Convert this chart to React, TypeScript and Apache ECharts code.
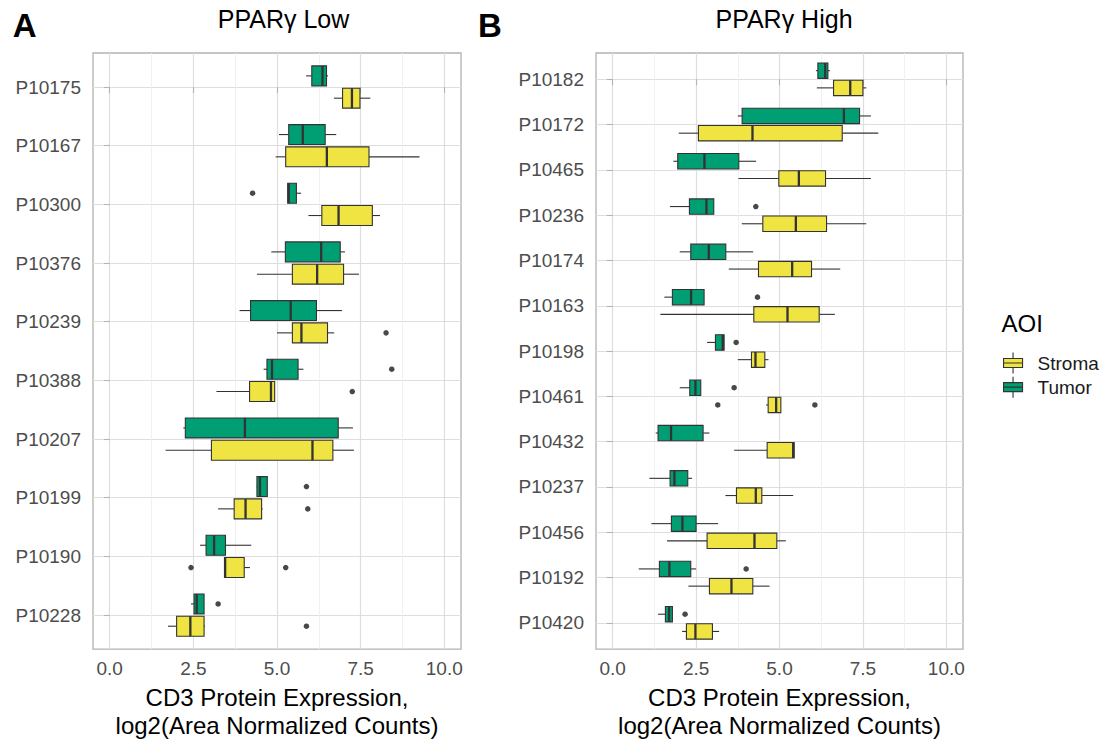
import React, { useEffect, useRef } from "react";
import * as echarts from "echarts";

// ---------- data ----------
const lowCats = ["P10175", "P10167", "P10300", "P10376", "P10239", "P10388", "P10207", "P10199", "P10190", "P10228"];
// [min, q1, median, q3, max]
const lowStroma = [
  [6.70, 6.96, 7.24, 7.48, 7.79],
  [4.96, 5.26, 6.49, 7.75, 9.26],
  [5.94, 6.34, 6.84, 7.85, 8.08],
  [4.40, 5.46, 6.20, 6.99, 7.45],
  [5.00, 5.46, 5.73, 6.51, 6.71],
  [3.19, 4.18, 4.82, 4.93, 4.93],
  [1.67, 3.04, 6.06, 6.67, 7.30],
  [3.24, 3.72, 4.06, 4.54, 4.57],
  [3.43, 3.43, 3.45, 4.02, 4.19],
  [1.74, 2.00, 2.41, 2.82, 2.85],
];
const lowTumor = [
  [5.87, 6.04, 6.36, 6.48, 6.52],
  [5.06, 5.35, 5.77, 6.44, 6.77],
  [5.32, 5.32, 5.35, 5.58, 5.72],
  [4.83, 5.25, 6.32, 6.89, 7.03],
  [3.88, 4.21, 5.41, 6.18, 6.94],
  [4.60, 4.70, 4.85, 5.63, 5.79],
  [2.20, 2.26, 4.04, 6.83, 7.27],
  [4.39, 4.40, 4.49, 4.71, 4.71],
  [2.70, 2.88, 3.12, 3.46, 4.23],
  [2.43, 2.52, 2.60, 2.82, 2.82],
];
const lowStromaOut: [string, number][] = [
  ["P10239", 8.26], ["P10388", 7.25], ["P10199", 5.92], ["P10190", 2.43], ["P10190", 5.26], ["P10228", 5.88],
];
const lowTumorOut: [string, number][] = [
  ["P10300", 4.27], ["P10388", 8.43], ["P10199", 5.88], ["P10228", 3.24],
];

const highCats = ["P10182", "P10172", "P10465", "P10236", "P10174", "P10163", "P10198", "P10461", "P10432", "P10237", "P10456", "P10192", "P10420"];
const highStroma = [
  [6.12, 6.62, 7.12, 7.50, 7.60],
  [1.98, 2.57, 4.19, 6.88, 7.96],
  [3.77, 4.98, 5.58, 6.38, 7.74],
  [3.87, 4.50, 5.49, 6.41, 7.60],
  [3.48, 4.37, 5.38, 5.96, 6.82],
  [1.43, 4.23, 5.24, 6.19, 6.66],
  [3.75, 4.16, 4.28, 4.56, 4.67],
  [4.60, 4.66, 4.90, 5.04, 5.04],
  [3.64, 4.63, 5.41, 5.44, 5.44],
  [3.38, 3.71, 4.29, 4.47, 5.41],
  [1.63, 2.83, 4.25, 4.92, 5.19],
  [2.27, 2.90, 3.56, 4.20, 4.70],
  [2.08, 2.21, 2.48, 2.99, 3.19],
];
const highTumor = [
  [6.09, 6.15, 6.37, 6.45, 6.51],
  [3.75, 3.88, 6.93, 7.40, 7.74],
  [1.82, 1.95, 2.75, 3.78, 4.30],
  [1.72, 2.30, 2.81, 3.03, 3.03],
  [2.01, 2.34, 2.88, 3.39, 4.21],
  [1.55, 1.79, 2.35, 2.74, 2.74],
  [2.83, 3.08, 3.30, 3.34, 3.34],
  [2.01, 2.31, 2.48, 2.64, 2.64],
  [1.29, 1.36, 1.75, 2.71, 2.90],
  [1.10, 1.72, 1.85, 2.25, 2.38],
  [1.16, 1.76, 2.09, 2.50, 3.16],
  [0.78, 1.40, 1.70, 2.34, 2.50],
  [1.36, 1.58, 1.69, 1.79, 1.79],
];
const highStromaOut: [string, number][] = [
  ["P10461", 3.15], ["P10461", 6.06],
];
const highTumorOut: [string, number][] = [
  ["P10236", 4.29], ["P10163", 4.34], ["P10198", 3.70], ["P10461", 3.64], ["P10192", 4.00], ["P10420", 2.17],
];

const xTicks = [0, 2.5, 5, 7.5, 10];
const xMinorTicks = [1.25, 3.75, 6.25, 8.75];
const xTitle = "CD3 Protein Expression,\nlog2(Area Normalized Counts)";
const panelTitles = ["PPARγ Low", "PPARγ High"];
const groups = ["Stroma", "Tumor"];
const colors: Record<string, string> = { Stroma: "#F0E442", Tumor: "#009E73" };

// ---------- style constants ----------
const FONT = "'Liberation Sans', Arial, sans-serif";
const OFFSET: Record<string, number> = { Tumor: -0.19, Stroma: 0.19 };
const HALF = 0.17;
const EXPAND = 0.58;
const LINE = "#333333";

function makeRender(offset: number, fill: string) {
  return (params: any, api: any) => {
    const idx = api.value(0);
    const yc = idx + offset;
    const xMin = api.coord([api.value(1), yc])[0];
    const xQ1 = api.coord([api.value(2), yc])[0];
    const xMed = api.coord([api.value(3), yc])[0];
    const xQ3 = api.coord([api.value(4), yc])[0];
    const xMax = api.coord([api.value(5), yc])[0];
    const y = api.coord([api.value(3), yc])[1];
    const ya = api.coord([api.value(3), yc - HALF])[1];
    const yb = api.coord([api.value(3), yc + HALF])[1];
    const top = Math.min(ya, yb);
    const bot = Math.max(ya, yb);
    return {
      type: "group",
      children: [
        { type: "line", shape: { x1: xMin, y1: y, x2: xQ1, y2: y }, style: { stroke: LINE, lineWidth: 1.1 } },
        { type: "line", shape: { x1: xQ3, y1: y, x2: xMax, y2: y }, style: { stroke: LINE, lineWidth: 1.1 } },
        {
          type: "rect",
          shape: { x: xQ1, y: top, width: Math.max(xQ3 - xQ1, 0.5), height: bot - top },
          style: { fill, stroke: LINE, lineWidth: 1.1 },
        },
        { type: "line", shape: { x1: xMed, y1: top, x2: xMed, y2: bot }, style: { stroke: LINE, lineWidth: 2.3 } },
      ],
    };
  };
}

function panelSeries(cats: string[], stroma: number[][], tumor: number[][], sOut: [string, number][], tOut: [string, number][], xIdx: number, yIdx: number) {
  const res: any[] = [];
  const sets: Record<string, number[][]> = { Stroma: stroma, Tumor: tumor };
  const outs: Record<string, [string, number][]> = { Stroma: sOut, Tumor: tOut };
  groups.forEach((g) => {
    res.push({
      type: "custom",
      name: g,
      xAxisIndex: xIdx,
      yAxisIndex: yIdx,
      itemStyle: { color: colors[g], borderColor: LINE, borderWidth: 1.1 },
      renderItem: makeRender(OFFSET[g], colors[g]),
      encode: { x: [1, 2, 3, 4, 5], y: 0 },
      data: sets[g].map((r, i) => [i, ...r]),
      z: 3,
    });
    res.push({
      type: "scatter",
      name: g + " outliers",
      xAxisIndex: xIdx,
      yAxisIndex: yIdx,
      symbolSize: 5.5,
      itemStyle: { color: "#1a1a1a" },
      data: outs[g].map(([c, v]) => [v, cats.indexOf(c) + OFFSET[g]]),
      z: 4,
    });
  });
  return res;
}

function xAxes(gridIndex: number) {
  return [
    {
      type: "value",
      gridIndex,
      min: -0.5,
      max: 10.5,
      position: "bottom",
      axisLine: { show: false },
      axisTick: { show: true, customValues: xTicks, length: 6, lineStyle: { color: "#b3b3b3", width: 1.1 } },
      axisLabel: {
        customValues: xTicks,
        formatter: (v: number) => v.toFixed(1),
        fontSize: 19,
        fontFamily: FONT,
        color: "#4d4d4d",
        margin: 10,
      },
      splitLine: { show: true, lineStyle: { color: "#dedede", width: 1.2 } },
      name: xTitle,
      nameLocation: "middle",
      nameGap: 31,
      nameTextStyle: { fontSize: 24, fontFamily: FONT, color: "#000", lineHeight: 28, verticalAlign: "top" },
    },
    {
      type: "value",
      gridIndex,
      min: -0.5,
      max: 10.5,
      position: "top",
      axisLine: { show: false },
      axisTick: { show: false, customValues: xMinorTicks },
      axisLabel: { show: false, customValues: xMinorTicks },
      splitLine: { show: true, lineStyle: { color: "#ededed", width: 0.8 } },
    },
  ];
}

function yAxis(gridIndex: number, cats: string[]) {
  const idxs = cats.map((_, i) => i);
  return {
    type: "value",
    gridIndex,
    inverse: true,
    min: -EXPAND,
    max: cats.length - 1 + EXPAND,
    axisLine: { show: false },
    axisTick: { show: true, customValues: idxs, length: 6, lineStyle: { color: "#b3b3b3", width: 1.1 } },
    axisLabel: {
      customValues: idxs,
      formatter: (v: number) => cats[Math.round(v)] ?? "",
      fontSize: 19,
      fontFamily: FONT,
      color: "#4d4d4d",
      margin: 12,
    },
    splitLine: { show: true, lineStyle: { color: "#dedede", width: 1.2 } },
  };
}

export default function App() {
  const ref = useRef<HTMLDivElement>(null);
  useEffect(() => {
    if (!ref.current) return;
    const chart = echarts.init(ref.current, undefined, { renderer: "svg" });
    const option: any = {
      animation: false,
      backgroundColor: "#ffffff",
      textStyle: { fontFamily: FONT },
      grid: [
        { left: 93, top: 53, width: 368, height: 598, show: true, borderColor: "#b3b3b3", borderWidth: 1.3, backgroundColor: "transparent" },
        { left: 596, top: 53, width: 367, height: 598, show: true, borderColor: "#b3b3b3", borderWidth: 1.3, backgroundColor: "transparent" },
      ],
      xAxis: [...xAxes(0), ...xAxes(1)],
      yAxis: [yAxis(0, lowCats), yAxis(1, highCats)],
      legend: {
        data: groups,
        orient: "vertical",
        left: 1003,
        top: 352,
        padding: 0,
        itemWidth: 19,
        itemHeight: 21,
        itemGap: 2,
        selectedMode: false,
        icon: "path://M0,6H19V15H0ZM0,10.5H19M9.5,0V6M9.5,15V21",
        itemStyle: { borderColor: LINE, borderWidth: 1.1 },
        textStyle: { fontSize: 19, fontFamily: FONT, color: "#1a1a1a", padding: [0, 0, 0, 10] },
      },
      graphic: [
        { type: "text", x: 12.7, y: 25.3, style: { text: "A", fontSize: 33, fontWeight: "bold", fontFamily: FONT, fill: "#000", align: "left", verticalAlign: "middle" } },
        { type: "text", x: 478, y: 25, style: { text: "B", fontSize: 33, fontWeight: "bold", fontFamily: FONT, fill: "#000", align: "left", verticalAlign: "middle" } },
        { type: "text", x: 283.5, y: 18.7, style: { text: panelTitles[0], fontSize: 25, fontFamily: FONT, fill: "#000", align: "center", verticalAlign: "middle" } },
        { type: "text", x: 784, y: 18.7, style: { text: panelTitles[1], fontSize: 25, fontFamily: FONT, fill: "#000", align: "center", verticalAlign: "middle" } },
        { type: "text", x: 1001.5, y: 323.3, style: { text: "AOI", fontSize: 24, fontFamily: FONT, fill: "#000", align: "left", verticalAlign: "middle" } },
      ],
      series: [
        ...panelSeries(lowCats, lowStroma, lowTumor, lowStromaOut, lowTumorOut, 0, 0),
        ...panelSeries(highCats, highStroma, highTumor, highStromaOut, highTumorOut, 2, 1),
      ],
    };
    chart.setOption(option);
    return () => chart.dispose();
  }, []);
  return <div ref={ref} style={{ position: "absolute", left: 0, top: 0, width: 1104, height: 744 }} />;
}
